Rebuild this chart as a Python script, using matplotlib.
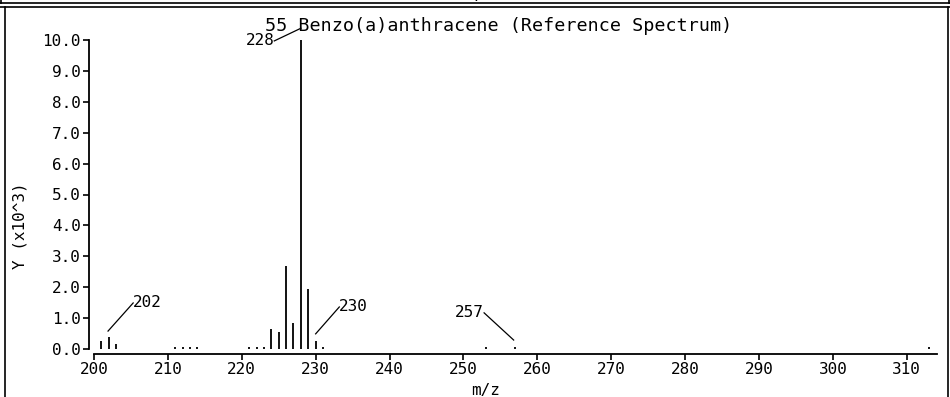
import matplotlib.pyplot as plt
from matplotlib.lines import Line2D

# spectrum peaks (m/z, intensity in thousands)
mz = [201, 202, 203, 211, 212, 213, 214, 221, 222, 223, 224, 225,
      226, 227, 228, 229, 230, 231, 253, 257, 313]
intensity = [0.25, 0.38, 0.15, 0.05, 0.05, 0.05, 0.05, 0.05, 0.05, 0.05, 0.65, 0.55,
             2.70, 0.85, 10.0, 1.95, 0.25, 0.05, 0.05, 0.05, 0.05]

# labelled peaks: (text, line start, line end, text alignment)
labels = ["202", "228", "230", "257"]
label_from = [(201.9, 0.58), (228.0, 10.38), (230.0, 0.49), (256.8, 0.29)]
label_to = [(205.3, 1.49), (224.4, 9.97), (233.2, 1.36), (252.8, 1.17)]
label_ha = ["left", "right", "left", "right"]

xticks = list(range(200, 320, 10))
yticks = [0, 1, 2, 3, 4, 5, 6, 7, 8, 9, 10]

title = "55 Benzo(a)anthracene (Reference Spectrum)"

plt.rcParams['font.family'] = ['DejaVu Sans Mono']
fs = 11.5

fig = plt.figure(figsize=(9.5, 3.97), dpi=100)
W, H = 950, 397

def fx(p):
    return p / W

def fy(p):
    return 1 - p / H

ax = fig.add_axes([fx(94), fy(349), fx(937) - fx(94), fy(40) - fy(349)])
ax.vlines(mz, 0, intensity, color='black', linewidth=1.3)
ax.set_xlim(200, 314.1)
ax.set_ylim(0, 10)

for s in ['top', 'right']:
    ax.spines[s].set_visible(False)
ax.spines['left'].set_position(('outward', 3.6))
ax.spines['bottom'].set_position(('outward', 3.6))
ax.spines['left'].set_bounds(0, 10)
ax.spines['left'].set_linewidth(1.3)
ax.spines['bottom'].set_linewidth(1.3)

ax.set_xticks(xticks)
ax.set_yticks(yticks)
ax.set_yticklabels(["%.1f" % v for v in yticks])
ax.tick_params(direction='out', length=4, width=1.2, labelsize=fs, pad=2)

ax.set_xlabel("m/z", fontsize=fs)
ax.xaxis.set_label_coords(0.464, -0.11)
ax.set_ylabel("Y (x10^3)", fontsize=fs)
ax.yaxis.set_label_coords(-0.079, 0.40)

for txt, p0, p1, ha in zip(labels, label_from, label_to, label_ha):
    ax.plot([p0[0], p1[0]], [p0[1], p1[1]], color='black', linewidth=0.9, clip_on=False)
    ax.text(p1[0], p1[1], txt, ha=ha, va='center', fontsize=fs, clip_on=False)

fig.text(fx(499), fy(26), title, ha='center', va='center', fontsize=13.2)

# panel frame lines
fig.add_artist(Line2D([0, 1], [fy(3), fy(3)], color='black', linewidth=1.2))
fig.add_artist(Line2D([0, 1], [fy(7), fy(7)], color='black', linewidth=1.2))
fig.add_artist(Line2D([fx(5), fx(5)], [0, fy(7)], color='black', linewidth=1.2))
fig.add_artist(Line2D([fx(948), fx(948)], [0, fy(7)], color='black', linewidth=1.2))
fig.add_artist(Line2D([fx(1), fx(1)], [fy(3), 1], color='black', linewidth=1.2))
fig.add_artist(Line2D([fx(949), fx(949)], [fy(3), 1], color='black', linewidth=1.2))
fig.text(fx(480), fy(-4), "m/z", ha='center', va='center', fontsize=fs)

fig.savefig("out.png", dpi=100)
